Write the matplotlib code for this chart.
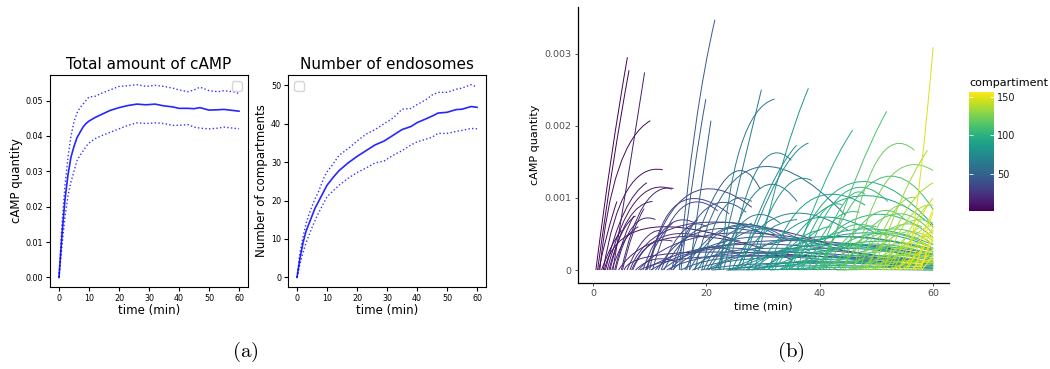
import matplotlib
matplotlib.use("Agg")
import matplotlib.pyplot as plt
from matplotlib.path import Path
from matplotlib.patches import PathPatch
from matplotlib import cm, colors

plt.rcParams['mathtext.fontset'] = 'cm'

# ---- panel (a): mean and +/- band over simulations
time_a = [0, 1, 2, 3, 4, 5, 6, 7, 8, 9, 10, 12, 14, 17, 20, 23, 26, 29, 32, 35,
          38, 40, 43, 45, 47, 50, 53, 55, 58, 60]
camp_mean = [0, 0.012, 0.022, 0.029, 0.034, 0.037, 0.0395, 0.041, 0.0425, 0.0435,
             0.0442, 0.0452, 0.046, 0.0472, 0.048, 0.0486, 0.049, 0.0488, 0.049, 0.0485,
             0.0482, 0.0478, 0.0478, 0.0477, 0.048, 0.0473, 0.0474, 0.0475, 0.0472, 0.047]
camp_upper = [0, 0.015, 0.026, 0.034, 0.040, 0.044, 0.0465, 0.048, 0.049, 0.050,
              0.051, 0.0512, 0.052, 0.053, 0.054, 0.0542, 0.0545, 0.054, 0.0543, 0.054,
              0.0535, 0.053, 0.0525, 0.053, 0.0538, 0.0528, 0.0525, 0.0528, 0.0525, 0.052]
camp_lower = [0, 0.009, 0.017, 0.023, 0.027, 0.030, 0.033, 0.0345, 0.0357, 0.037,
              0.038, 0.0392, 0.040, 0.041, 0.042, 0.043, 0.0437, 0.0435, 0.0437, 0.0435,
              0.043, 0.043, 0.0432, 0.0425, 0.0422, 0.042, 0.0422, 0.0425, 0.0422, 0.042]
endo_mean = [0, 5, 9, 12, 14, 16, 18, 19.5, 21, 22.5, 24, 26, 27.8, 29.8, 31.5, 33,
             34.5, 35.5, 37, 38.5, 39.3, 40.3, 41.3, 42, 42.8, 43, 43.7, 43.8, 44.5, 44.3]
endo_upper = [0, 6.5, 10.5, 14, 16.5, 18.5, 20.5, 22, 24, 26, 27.5, 29.5, 31.8, 33.5,
              35.5, 37.3, 38.5, 40, 41.5, 43.8, 44, 45, 46.3, 47.5, 48.2, 48.2, 49, 49.3,
              50.2, 49.6]
endo_lower = [0, 3.5, 6.5, 9, 11, 13, 14.8, 16.5, 18, 19.5, 21, 22.5, 24, 25.8, 27.3,
              28.5, 29.8, 30.3, 31.8, 33, 34.5, 35.3, 36, 36.5, 37.5, 37.5, 38, 38.3,
              38.8, 38.7]

# ---- panel (b): one arc per compartment (quantities in 1e-3 units)
# start at (t_start, 0), pass through (t_mid, q_mid) and stop at (t_end, q_end)
comp_id = [1, 2, 3, 4, 5, 6, 7, 8, 9, 10, 11, 12, 13, 15, 16, 17, 19, 20, 21, 23,
           24, 25, 26, 27, 28, 30, 31, 32, 33, 34, 35, 36, 38, 39, 40, 42, 44, 45, 46, 47,
           49, 50, 51, 53, 54, 55, 57, 58, 59, 60, 62, 63, 64, 66, 67, 68, 70, 71, 72, 73,
           75, 76, 77, 78, 79, 80, 81, 83, 84, 85, 86, 87, 88, 89, 90, 91, 92, 93, 94, 95,
           96, 97, 98, 99, 100, 101, 102, 103, 104, 105, 106, 107, 108, 110, 111, 112, 113, 114, 115, 116,
           117, 118, 119, 120, 121, 122, 123, 125, 126, 127, 128, 130, 131, 132, 134, 135, 136, 137, 139, 140,
           141, 143, 144, 146, 148, 149, 150, 151, 152, 154, 155, 157,
           14, 18, 22, 29, 37, 41, 43, 48, 52, 56, 61, 65, 69, 74, 82, 109, 124, 129, 133, 138,
           142, 145, 147, 153, 156]
t_start = [0.5, 0.8, 1.0, 1.2, 1.5, 1.8, 2.0, 2.2, 2.5, 2.8, 3.0, 3.3, 3.5, 4.0, 4.5, 5.0, 5.5, 6.0, 6.5, 7.0,
           7.5, 8.0, 8.3, 8.8, 9.2, 9.5, 10.0, 10.2, 10.5, 11.0, 11.5, 12.0, 12.5, 13.0, 13.5, 14.0, 15.2, 15.5, 15.5, 17.0,
           16.5, 17.0, 17.5, 18.0, 18.5, 19.0, 19.5, 20.0, 20.2, 20.5, 21.0, 21.5, 22.0, 22.5, 23.0, 23.5, 24.0, 24.2, 24.5, 25.0,
           25.5, 26.0, 26.5, 27.0, 27.2, 27.5, 28.0, 28.5, 29.0, 29.5, 30.0, 30.5, 31.0, 31.2, 31.5, 32.0, 32.5, 33.0, 33.5, 34.0,
           34.2, 34.5, 35.0, 35.5, 36.0, 36.2, 36.5, 37.0, 37.5, 38.0, 38.5, 39.0, 39.5, 40.0, 40.2, 40.5, 41.0, 41.5, 42.0, 42.5,
           43.0, 43.5, 44.0, 44.2, 44.5, 45.0, 45.5, 46.0, 46.5, 47.0, 47.5, 48.0, 48.5, 49.0, 49.5, 50.0, 50.5, 51.0, 51.5, 52.0,
           52.5, 53.0, 53.5, 54.0, 55.5, 55.0, 55.5, 56.0, 56.5, 57.0, 57.5, 58.0,
           3.8, 5.2, 6.8, 9.3, 12.2, 13.8, 14.2, 16.2, 17.8, 19.2, 20.8, 22.2, 23.8, 25.2, 28.2, 39.8, 45.8, 47.8, 49.2, 51.2,
           52.8, 53.8, 54.2, 56.8, 57.8]
t_mid = [3.2, 3.5, 2.5, 4.5, 3.2, 6.0, 9.0, 5.5, 7.5, 5.0, 6.2, 5.5, 6.5, 7.0, 14.0, 9.0, 20.0, 9.0, 18.0, 12.0,
         11.0, 22.0, 25.0, 13.0, 25.0, 17.0, 15.0, 30.0, 15.5, 12.5, 20.0, 16.0, 20.0, 30.0, 19.0, 27.0, 18.0, 17.8, 25.0, 19.0,
         23.5, 22.0, 33.0, 28.0, 22.0, 35.0, 25.0, 22.0, 38.0, 28.0, 38.0, 25.0, 26.2, 26.0, 29.0, 40.0, 29.0, 40.0, 33.0, 40.0,
         31.0, 32.5, 32.0, 42.0, 42.0, 33.0, 42.0, 33.5, 38.0, 45.0, 33.0, 44.0, 38.0, 45.0, 45.0, 36.0, 46.0, 42.0, 45.0, 38.0,
         47.0, 45.5, 40.5, 47.0, 40.0, 48.0, 48.0, 44.0, 48.0, 42.0, 49.0, 44.0, 50.0, 50.0, 50.0, 46.5, 45.5, 51.0, 51.0, 49.0,
         52.0, 48.0, 52.0, 52.0, 50.0, 52.5, 52.0, 52.0, 53.0, 51.0, 54.0, 54.0, 53.0, 55.0, 54.5, 55.0, 55.0, 54.5, 56.0, 56.0,
         55.8, 56.5, 57.0, 57.0, 57.9, 57.5, 58.0, 58.0, 58.3, 58.5, 58.8, 59.0,
         5.5, 7.0, 10.0, 11.5, 22.0, 16.0, 20.0, 24.0, 30.0, 23.0, 32.0, 27.0, 40.0, 30.0, 40.0, 45.0, 53.0, 54.0, 54.5, 55.5,
         56.5, 57.0, 57.5, 58.5, 59.0]
q_mid = [1.55, 1.45, 0.5, 1.4, 0.32, 1.1, 0.57, 0.8, 0.95, 0.5, 0.7, 0.4, 1.45, 0.6, 0.45, 0.9, 0.25, 0.42, 0.65, 0.45,
         0.15, 0.5, 0.2, 0.6, 0.35, 1.05, 0.92, 0.4, 0.85, 0.12, 0.55, 0.55, 0.62, 0.25, 0.3, 0.45, 1.95, 1.35, 0.18, 1.1,
         1.27, 0.5, 0.18, 1.4, 0.35, 0.1, 0.55, 0.25, 0.45, 0.55, 0.06, 0.45, 1.35, 1.7, 1.1, 0.01, 1.4, 0.35, 0.75, 0.3,
         1.1, 1.25, 0.4, 0.45, 0.1, 1.05, 0.15, 1.5, 0.7, 0.5, 0.2, 0.3, 0.95, 0.04, 1.0, 0.4, 0.2, 0.35, 0.55, 0.45,
         0.38, 1.2, 1.15, 0.35, 0.75, 0.14, 0.75, 1.05, 0.1, 0.65, 0.5, 0.9, 0.25, 1.25, 0.3, 1.3, 0.5, 0.55, 0.2, 0.75,
         0.01, 0.4, 0.75, 0.06, 1.5, 0.35, 0.55, 1.25, 0.12, 0.7, 0.5, 0.6, 0.8, 0.22, 1.0, 0.35, 0.8, 0.4, 0.4, 0.1,
         0.55, 0.45, 0.2, 0.6, 1.4, 0.25, 0.45, 0.1, 0.32, 0.15, 0.22, 0.1,
         0.45, 0.5, 0.35, 0.4, 0.3, 0.45, 0.85, 0.6, 0.3, 0.85, 0.25, 0.7, 0.12, 0.5, 0.35, 0.6, 0.2, 0.3, 0.12, 0.7,
         0.15, 0.35, 0.12, 0.45, 0.3]
t_end = [6.06, 6.35, 4.2, 10.1, 5.0, 12.3, 25.0, 9.5, 13.9, 7.5, 10.5, 8.0, 9.1, 11.0, 30.0, 14.2, 60.0, 12.0, 42.0, 20.0,
         15.0, 45.0, 60.0, 18.0, 50.0, 28.0, 24.0, 60.0, 22.0, 14.0, 35.0, 20.0, 30.0, 60.0, 25.0, 45.0, 21.5, 19.9, 40.0, 20.8,
         29.5, 27.5, 60.0, 44.5, 26.0, 60.0, 32.0, 24.0, 60.0, 38.0, 60.0, 28.0, 29.7, 32.0, 36.0, 60.0, 35.0, 60.0, 45.0, 60.0,
         35.9, 38.0, 40.0, 60.0, 60.0, 38.6, 60.0, 38.0, 50.0, 60.0, 36.0, 60.0, 48.0, 60.0, 60.0, 40.0, 60.0, 55.0, 60.0, 42.0,
         60.0, 60.0, 45.8, 60.0, 44.0, 60.0, 60.0, 52.0, 60.0, 47.0, 60.0, 48.0, 60.0, 60.0, 60.0, 51.8, 50.0, 60.0, 60.0, 55.0,
         60.0, 52.0, 60.0, 60.0, 56.7, 60.0, 58.0, 60.0, 60.0, 55.0, 60.0, 60.0, 57.0, 60.0, 59.0, 60.0, 60.0, 58.0, 60.0, 60.0,
         59.0, 60.0, 60.0, 60.0, 60.0, 60.0, 60.0, 60.0, 60.0, 60.0, 60.0, 60.0,
         7.2, 9.0, 14.0, 14.0, 35.0, 18.5, 27.0, 34.0, 60.0, 28.0, 50.0, 33.0, 60.0, 36.0, 60.0, 52.0, 60.0, 60.0, 60.0, 60.0,
         60.0, 60.0, 60.0, 60.0, 60.0]
q_end = [2.95, 2.77, 0.95, 2.07, 0.55, 1.39, 0.42, 1.21, 1.12, 0.75, 0.95, 0.6, 2.74, 0.7, 0.3, 1.13, 0.05, 0.55, 0.35, 0.45,
         0.1, 0.3, 0.1, 0.65, 0.2, 0.87, 0.78, 0.2, 0.82, 0.2, 0.4, 0.6, 0.5, 0.08, 0.25, 0.25, 3.47, 2.37, 0.15, 2.07,
         1.12, 0.6, 0.12, 0.76, 0.4, 0.05, 0.5, 0.45, 0.28, 0.35, 0.03, 0.65, 2.5, 2.37, 0.95, 0.0, 1.52, 0.22, 0.55, 0.15,
         1.73, 1.76, 0.35, 0.25, 0.06, 1.24, 0.08, 2.52, 0.5, 0.3, 0.3, 0.18, 0.9, 0.02, 0.6, 0.55, 0.1, 0.2, 0.35, 0.6,
         0.28, 0.62, 1.94, 0.2, 0.9, 0.1, 0.45, 0.95, 0.05, 0.8, 0.3, 1.05, 0.15, 0.84, 0.22, 2.2, 0.6, 0.35, 0.12, 0.7,
         0.0, 0.5, 0.5, 0.05, 1.66, 0.25, 0.6, 1.38, 0.08, 0.9, 0.4, 0.65, 1.0, 0.18, 1.66, 0.3, 1.21, 0.6, 0.45, 0.1,
         0.9, 0.62, 0.25, 1.0, 3.09, 0.4, 0.85, 0.15, 0.6, 0.3, 0.45, 0.2,
         0.75, 0.85, 0.4, 0.65, 0.15, 0.7, 0.8, 0.45, 0.1, 0.95, 0.1, 0.65, 0.06, 0.7, 0.12, 0.45, 0.15, 0.25, 0.12, 0.9,
         0.2, 0.55, 0.1, 0.8, 0.55]
assert len({len(comp_id), len(t_start), len(t_mid), len(q_mid), len(t_end), len(q_end)}) == 1

fig = plt.figure(figsize=(10.5, 3.69), dpi=100)

# left: total cAMP
ax1 = fig.add_axes([0.0476, 0.2222, 0.1886, 0.5745])
ax1.plot(time_a, camp_mean, color='blue', lw=1.2, alpha=0.85)
ax1.plot(time_a, camp_upper, color='blue', lw=1.0, ls=':', alpha=0.8)
ax1.plot(time_a, camp_lower, color='blue', lw=1.0, ls=':', alpha=0.8)
ax1.set_title('Total amount of cAMP', fontsize=11, pad=4)
ax1.set_xlabel('time (min)', fontsize=8.5, labelpad=1)
ax1.set_ylabel('cAMP quantity', fontsize=8.5, labelpad=2)
ax1.set_xticks([0, 10, 20, 30, 40, 50, 60])
ax1.set_yticks([0, 0.01, 0.02, 0.03, 0.04, 0.05])
ax1.set_yticklabels(['0.00', '0.01', '0.02', '0.03', '0.04', '0.05'])
ax1.tick_params(labelsize=5.8, length=3, pad=2)
ax1.legend([], [], loc='upper right', fontsize=9)

# middle: number of endosomes
ax2 = fig.add_axes([0.2743, 0.2222, 0.1886, 0.5745])
ax2.plot(time_a, endo_mean, color='blue', lw=1.2, alpha=0.85)
ax2.plot(time_a, endo_upper, color='blue', lw=1.0, ls=':', alpha=0.8)
ax2.plot(time_a, endo_lower, color='blue', lw=1.0, ls=':', alpha=0.8)
ax2.set_title('Number of endosomes', fontsize=11, pad=4)
ax2.set_xlabel('time (min)', fontsize=8.5, labelpad=1)
ax2.set_ylabel('Number of compartments', fontsize=8.5, labelpad=2)
ax2.set_xticks([0, 10, 20, 30, 40, 50, 60])
ax2.set_yticks([0, 10, 20, 30, 40, 50])
ax2.tick_params(labelsize=5.8, length=3, pad=2)
ax2.legend([], [], loc='upper left', fontsize=9)

# right: per-compartment cAMP
ax3 = fig.add_axes([0.5505, 0.2331, 0.3533, 0.748])
norm = colors.Normalize(vmin=1, vmax=157)
cmap = plt.get_cmap('viridis')
for i in sorted(range(len(comp_id)), key=lambda k: comp_id[k]):
    p0 = (t_start[i], 0.0)
    p2 = (t_end[i], q_end[i] * 1e-3)
    mid = (t_mid[i], q_mid[i] * 1e-3)
    ctrl = (2 * mid[0] - (p0[0] + p2[0]) / 2, 2 * mid[1] - (p0[1] + p2[1]) / 2)
    path = Path([p0, ctrl, p2], [Path.MOVETO, Path.CURVE3, Path.CURVE3])
    ax3.add_patch(PathPatch(path, fill=False, edgecolor=cmap(norm(comp_id[i])), lw=0.7))
ax3.set_xlim(-2.65, 62.8)
ax3.set_ylim(-0.00018, 0.003647)
ax3.set_xticks([0, 20, 40, 60])
ax3.set_yticks([0, 0.001, 0.002, 0.003])
ax3.set_yticklabels(['0', '0.001', '0.002', '0.003'])
for s in ['top', 'right']:
    ax3.spines[s].set_visible(False)
for s in ['left', 'bottom']:
    ax3.spines[s].set_linewidth(0.9)
ax3.tick_params(labelsize=6.8, length=2.5, width=0.6, color='#333333', labelcolor='#4d4d4d', pad=2)
ax3.set_xlabel('time (min)', fontsize=8, labelpad=2)
ax3.set_ylabel('cAMP quantity', fontsize=8, labelpad=3)

cax = fig.add_axes([0.9229, 0.4282, 0.0238, 0.3225])
cb = fig.colorbar(cm.ScalarMappable(norm=norm, cmap=cmap), cax=cax)
cb.outline.set_visible(False)
cb.set_ticks([50, 100, 150])
cax.tick_params(left=True, right=True, labelleft=False, labelright=True, direction='in',
                color='white', length=3, width=0.6, labelsize=7, labelcolor='#1a1a1a', pad=2)
cax.set_title('compartiment', loc='left', fontsize=8, pad=4)

fig.text(0.234, 0.045, r'$\mathrm{(a)}$', fontsize=15, ha='center', va='center')
fig.text(0.753, 0.045, r'$\mathrm{(b)}$', fontsize=15, ha='center', va='center')

fig.savefig('out.png', dpi=100)
